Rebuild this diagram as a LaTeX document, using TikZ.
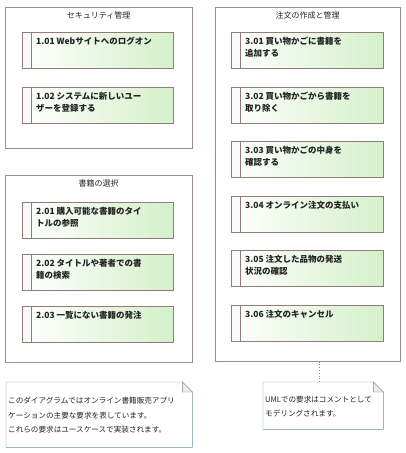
\documentclass[tikz,border=0pt]{standalone}
\usepackage{fontspec}
\setmainfont{Noto Sans CJK JP}
\usepackage{tikz}
\usetikzlibrary{shadows,calc}

\definecolor{pkgline}{RGB}{165,140,140}
\definecolor{reqline}{RGB}{150,122,122}
\definecolor{reqgreen}{RGB}{212,240,202}
\definecolor{noteline}{RGB}{112,142,158}
\definecolor{txt}{RGB}{35,35,35}

\tikzset{
  pkg/.style={draw=pkgline, fill=white, anchor=north west, inner sep=0pt},
  pkgtitle/.style={font=\fontsize{8}{10}\selectfont, text=txt, anchor=north, inner sep=0pt},
  reqbox/.style={draw=reqline, anchor=north west, inner sep=0pt,
      minimum width=151pt, minimum height=36pt,
      left color=white, right color=reqgreen,
      drop shadow={shadow xshift=1.2pt, shadow yshift=-1.2pt, fill=black!40, opacity=0.4},
      path picture={
        \fill[white!85!reqline!30] (path picture bounding box.south west) rectangle
            ([xshift=9pt]path picture bounding box.north west);
        \draw[reqline, line width=0.9pt] ([xshift=9pt]path picture bounding box.south west)
            -- ([xshift=9pt]path picture bounding box.north west);
      }},
  reqtext/.style={font=\fontsize{8.5}{12}\selectfont\bfseries, text=txt,
      anchor=north west, align=left, inner sep=0pt},
  notebox/.style={anchor=north west, inner xsep=1.5pt, inner ysep=0pt, align=left,
      font=\fontsize{7.6}{14.5}\selectfont, text=txt},
  noteline/.style={draw=noteline},
}

\begin{document}
\begin{tikzpicture}[x=1pt, y=-1pt]
\useasboundingbox[fill=white] (0,0) rectangle (406,453);

% packages
\node[pkg, minimum width=187pt, minimum height=141pt] (sec) at (5,7) {};
\node[pkg, minimum width=187pt, minimum height=187pt] (sel) at (5,175) {};
\node[pkg, minimum width=185pt, minimum height=354pt] (ord) at (215,7) {};

\node[pkgtitle] (sectitle) at ([yshift=-5pt]sec.north) {セキュリティ管理};
\node[pkgtitle] (seltitle) at ([yshift=-5pt]sel.north) {書籍の選択};
\node[pkgtitle] (ordtitle) at ([yshift=-5pt]ord.north) {注文の作成と管理};

% requirements
\node[reqbox] (r101) at (22,32) {};
\node[reqbox] (r102) at (22,87) {};
\node[reqbox] (r201) at (22,202) {};
\node[reqbox] (r202) at (22,254) {};
\node[reqbox] (r203) at (22,306) {};
\node[reqbox, minimum width=152pt] (r301) at (231,32) {};
\node[reqbox, minimum width=152pt] (r302) at (231,87) {};
\node[reqbox, minimum width=152pt] (r303) at (231,141) {};
\node[reqbox, minimum width=152pt] (r304) at (231,196) {};
\node[reqbox, minimum width=152pt] (r305) at (231,250) {};
\node[reqbox, minimum width=152pt] (r306) at (231,305) {};

\node[reqtext] (t101) at ([shift={(14pt,-5pt)}]r101.north west) {1.01 Webサイトへのログオン};
\node[reqtext] (t102) at ([shift={(14pt,-5pt)}]r102.north west) {1.02 システムに新しいユー\\ザーを登録する};
\node[reqtext] (t201) at ([shift={(14pt,-5pt)}]r201.north west) {2.01 購入可能な書籍のタイ\\トルの参照};
\node[reqtext] (t202) at ([shift={(14pt,-5pt)}]r202.north west) {2.02 タイトルや著者での書\\籍の検索};
\node[reqtext] (t203) at ([shift={(14pt,-5pt)}]r203.north west) {2.03 一覧にない書籍の発注};
\node[reqtext] (t301) at ([shift={(14pt,-5pt)}]r301.north west) {3.01 買い物かごに書籍を\\追加する};
\node[reqtext] (t302) at ([shift={(14pt,-5pt)}]r302.north west) {3.02 買い物かごから書籍を\\取り除く};
\node[reqtext] (t303) at ([shift={(14pt,-5pt)}]r303.north west) {3.03 買い物かごの中身を\\確認する};
\node[reqtext] (t304) at ([shift={(14pt,-5pt)}]r304.north west) {3.04 オンライン注文の支払い};
\node[reqtext] (t305) at ([shift={(14pt,-5pt)}]r305.north west) {3.05 注文した品物の発送\\状況の確認};
\node[reqtext] (t306) at ([shift={(14pt,-5pt)}]r306.north west) {3.06 注文のキャンセル};

% notes
\node[notebox, minimum width=186pt, minimum height=65pt, text width=182pt] (note1) at (6,382)
    {\rule{0pt}{8pt}このダイアグラムではオンライン書籍販売アプリ\\ケーションの主要な要求を表しています。\\これらの要求はユースケースで実装されます。};
\node[notebox, minimum width=120pt, minimum height=47pt, text width=116pt] (note2) at (263,382)
    {\rule{0pt}{8pt}UMLでの要求はコメントとして\\モデリングされます。};

\draw[noteline] (note1.south west) -- (note1.north west) -- ([xshift=-10pt]note1.north east)
    -- ([yshift=-10pt]note1.north east) -- (note1.south east) -- cycle;
\draw[noteline] (note2.south west) -- (note2.north west) -- ([xshift=-10pt]note2.north east)
    -- ([yshift=-10pt]note2.north east) -- (note2.south east) -- cycle;
\draw[noteline, fill=black!8] ([xshift=-10pt]note1.north east) |- ([yshift=-10pt]note1.north east) -- cycle;
\draw[noteline, fill=black!8] ([xshift=-10pt]note2.north east) |- ([yshift=-10pt]note2.north east) -- cycle;

\draw[noteline, dotted, thick] ([xshift=-4pt]note2.north) -- ([xshift=-4pt]note2.north |- ord.south);
\end{tikzpicture}
\end{document}
